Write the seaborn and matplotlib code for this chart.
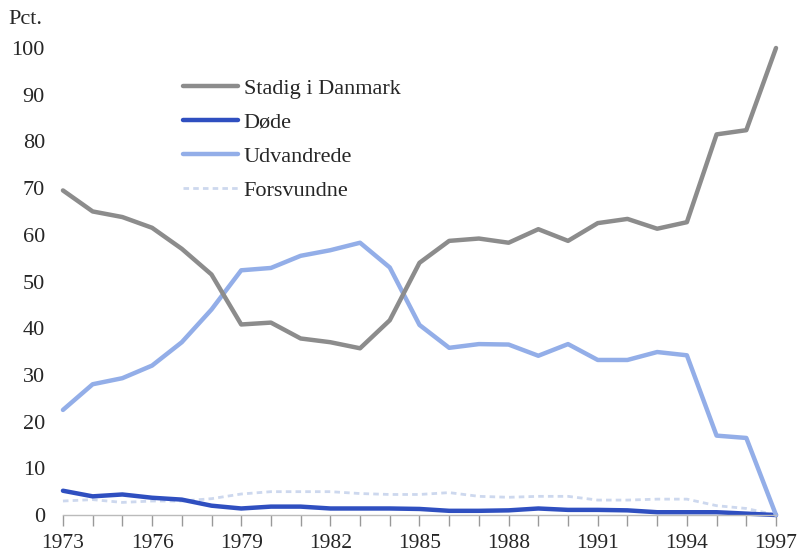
import pandas as pd
import matplotlib.pyplot as plt
import seaborn as sns
from matplotlib.lines import Line2D
from matplotlib.ticker import MultipleLocator

years = list(range(1973, 1998))

stadig = [69.5, 65.0, 63.8, 61.5, 57.0, 51.5, 40.8, 41.2, 37.8, 37.0, 35.7, 41.7, 54.0,
          58.7, 59.2, 58.3, 61.2, 58.7, 62.5, 63.4, 61.3, 62.7, 81.5, 82.4, 100.0]
doede = [5.2, 4.0, 4.4, 3.7, 3.3, 2.0, 1.4, 1.8, 1.8, 1.4, 1.4, 1.4, 1.3,
         0.9, 0.9, 1.0, 1.4, 1.1, 1.1, 1.0, 0.6, 0.6, 0.6, 0.3, 0.0]
udvandrede = [22.5, 28.0, 29.3, 32.0, 37.0, 44.0, 52.4, 52.9, 55.5, 56.7, 58.3, 53.0, 40.7,
              35.8, 36.6, 36.5, 34.1, 36.6, 33.2, 33.2, 34.9, 34.2, 17.0, 16.5, 0.0]
forsvundne = [3.0, 3.3, 2.7, 3.0, 3.0, 3.5, 4.5, 5.0, 5.0, 5.0, 4.6, 4.4, 4.4,
              4.8, 4.0, 3.8, 4.0, 4.0, 3.2, 3.2, 3.4, 3.4, 2.0, 1.4, 0.0]

colors = {'Stadig i Danmark': '#8c8c8c', 'Døde': '#2f4fc0',
          'Udvandrede': '#93aee8', 'Forsvundne': '#cdd8ee'}

df = pd.DataFrame({'År': years, 'Stadig i Danmark': stadig, 'Døde': doede,
                   'Udvandrede': udvandrede, 'Forsvundne': forsvundne})
df = df.melt(id_vars='År', var_name='Gruppe', value_name='Pct')

sns.set_style('white')
plt.rcParams['font.family'] = ['Liberation Serif', 'DejaVu Serif']

fig = plt.figure(figsize=(8.07, 5.56), dpi=100)
ax = fig.add_axes([0.078, 0.0737, 0.8836, 0.84])

# faint dotted line first, so the others sit on top
sns.lineplot(data=df[df['Gruppe'] == 'Forsvundne'], x='År', y='Pct', color=colors['Forsvundne'],
             lw=2, linestyle=(0, (2, 1.5)), legend=False, ax=ax, clip_on=False)
for name in ['Døde', 'Udvandrede', 'Stadig i Danmark']:
    sns.lineplot(data=df[df['Gruppe'] == name], x='År', y='Pct', color=colors[name],
                 lw=3.2, legend=False, ax=ax, clip_on=False)

ax.set_xlim(1973, 1997)
ax.set_ylim(0, 100)
ax.set_xticks(range(1973, 1998, 3))
ax.xaxis.set_minor_locator(MultipleLocator(1))
ax.set_yticks(range(0, 101, 10))
ax.tick_params(axis='x', which='both', direction='out', length=8, color='#999999',
               width=1, bottom=True, labelsize=15.5, pad=6)
ax.tick_params(axis='y', length=0, labelsize=16, pad=13)
for s in ['top', 'right', 'left']:
    ax.spines[s].set_visible(False)
ax.spines['bottom'].set_color('#bbbbbb')
ax.spines['bottom'].set_linewidth(1)
ax.set_xlabel('')
ax.set_ylabel('')
fig.text(0.01, 0.965, 'Pct.', fontsize=16, ha='left', va='center')

legend_elements = [
    Line2D([0], [0], color=colors['Stadig i Danmark'], lw=3.2, label='Stadig i Danmark'),
    Line2D([0], [0], color=colors['Døde'], lw=3.2, label='Døde'),
    Line2D([0], [0], color=colors['Udvandrede'], lw=3.2, label='Udvandrede'),
    Line2D([0], [0], color=colors['Forsvundne'], lw=2, linestyle=(0, (2, 1.5)), label='Forsvundne'),
]
ax.legend(handles=legend_elements, frameon=False, loc='upper left',
          bbox_to_anchor=(0.168, 0.935), fontsize=16, handlelength=2.5,
          handletextpad=0.25, labelspacing=0.6, borderpad=0, borderaxespad=0)

fig.savefig('out.png', dpi=100)
